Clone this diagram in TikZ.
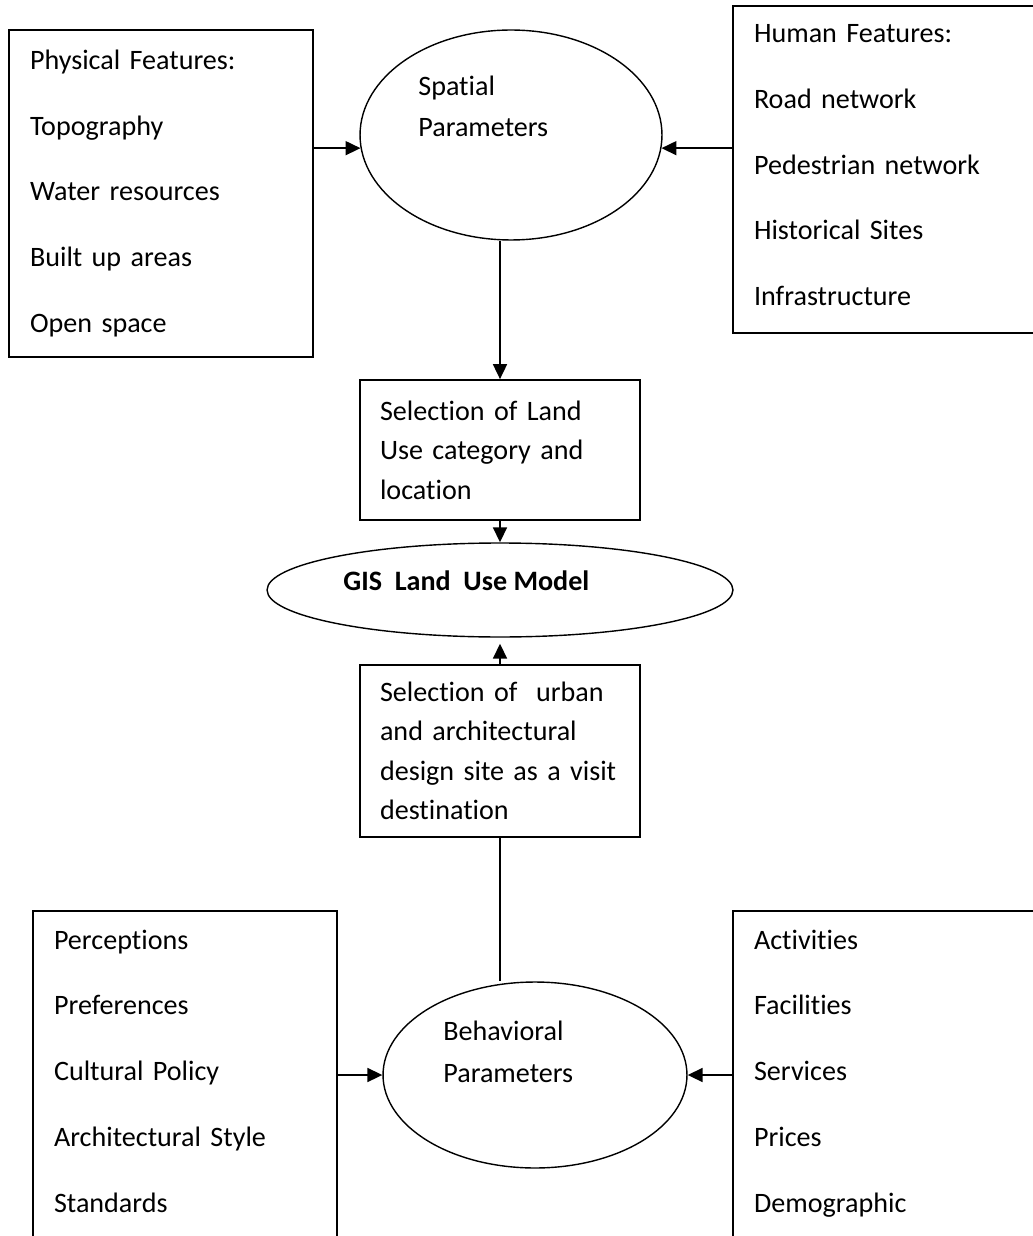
\documentclass[tikz,border=0pt]{standalone}
\usepackage{fontspec}
\setmainfont{Carlito}[Ligatures=NoCommon]
\usetikzlibrary{arrows.meta}
\usetikzlibrary{shapes.geometric}
\usetikzlibrary{positioning}
\tikzset{listbox/.style = {draw, line width=1pt, rectangle, align=left, inner xsep=0.42cm, inner ysep=0, font=\fontsize{16}{37.4}\selectfont}}
\tikzset{stepbox/.style = {draw, line width=1pt, rectangle, align=left, inner xsep=0.4cm, inner ysep=0, minimum width=5.6cm, text width=4.8cm, font=\fontsize{16}{22.4}\selectfont}}
\tikzset{bubble/.style = {draw, line width=0.8pt, ellipse, inner sep=0}}
\tikzset{bubbletext/.style = {align=left, inner sep=0, font=\fontsize{16}{23.8}\selectfont}}
\tikzset{arrow/.style = {line width=1pt, -{Triangle[length=0.3cm, width=0.28cm]}}}

\begin{document}
\begin{tikzpicture}[x=0.02cm, y=-0.02cm]
  \useasboundingbox (0, 0) rectangle (1033, 1236);
  \clip (0, 0) rectangle (1033, 1236);

  \node [listbox, minimum width=6.08cm, minimum height=6.54cm, text width=5.24cm] (physical) at (161, 193.5) {Physical Features:\\Topography\\Water resources\\Built up areas\\Open space};
  \node [listbox, minimum width=6.4cm, minimum height=6.54cm, text width=5.56cm] (human) at (893, 169.5) {Human Features:\\Road network\\Pedestrian network\\Historical Sites\\Infrastructure\rule[-0.18cm]{0pt}{0pt}};

  \node [bubble, minimum width=6.04cm, minimum height=4.2cm] (spatial) at (511, 135) {};
  \node [bubbletext, anchor=base west] (spatialtext) at (418, 137) {Spatial\\Parameters};

  \node [stepbox, minimum height=2.8cm] (landuse) at (500, 450) {Selection of Land\\Use category and\\location};
  \node [bubble, minimum width=9.32cm, minimum height=1.88cm] (gis) at (500, 590) {};
  \node [bubbletext, anchor=base west, font=\fontsize{16}{23.8}\selectfont\bfseries] (gistext) at (343, 590) {GIS\ \ Land\ \ Use Model};
  \node [stepbox, minimum height=3.44cm] (site) at (500, 751) {Selection of\ \ urban\\and architectural\\design site as a visit\\destination};

  \node [bubble, minimum width=6.08cm, minimum height=3.72cm] (behav) at (535, 1075) {};
  \node [bubbletext, anchor=base west] (behavtext) at (443, 1082) {Behavioral\\Parameters};

  \node [listbox, minimum width=6.08cm, minimum height=6.68cm, text width=5.24cm] (perception) at (185, 1078) {Perceptions\\Preferences\\Cultural Policy\\Architectural Style\\Standards\rule[-0.28cm]{0pt}{0pt}};
  \node [listbox, minimum width=6.4cm, minimum height=6.68cm, text width=5.56cm] (activity) at (893, 1078) {Activities\\Facilities\\Services\\Prices\\Demographic\rule[-0.28cm]{0pt}{0pt}};

  \draw [arrow] (physical.east |- spatial.185) -- (spatial.185);
  \draw [arrow] (human.west |- spatial.-5) -- (spatial.-5);
  \draw [arrow] (spatial.south -| landuse.north) -- (landuse.north);
  \draw [arrow] (landuse.south) -- (gis.north);
  \draw [arrow, shorten >=0.12cm] (site.north) -- (gis.south);
  \draw [line width=1pt] (site.south) -- (site.south |- behav.north);
  \draw [arrow] (perception.east |- behav.west) -- (behav.west);
  \draw [arrow] (activity.west |- behav.east) -- (behav.east);
\end{tikzpicture}
\end{document}
